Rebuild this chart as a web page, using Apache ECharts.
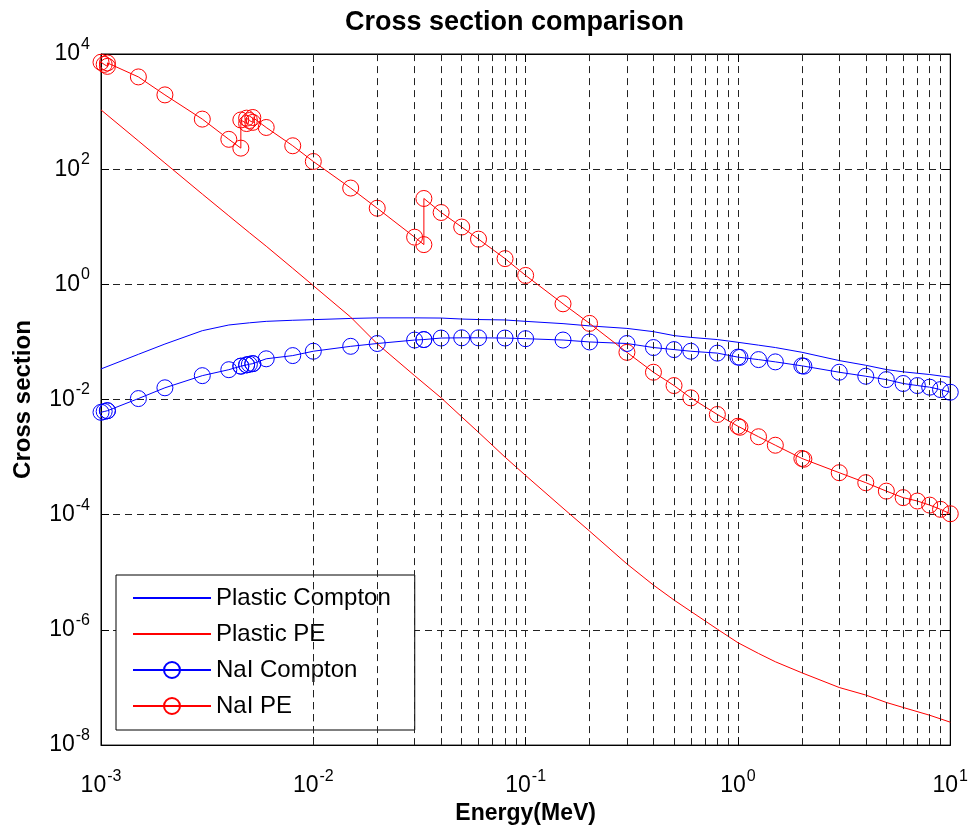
<!DOCTYPE html>
<html>
<head>
<meta charset="utf-8">
<title>Cross section comparison</title>
<script src="https://cdn.jsdelivr.net/npm/echarts@6/dist/echarts.min.js"></script>
<style>
html, body { margin: 0; padding: 0; background: #fff; }
#chart { width: 971px; height: 830px; }
</style>
</head>
<body>
<div id="chart"></div>
<script>
const FONT = '"Liberation Sans", Arial, sans-serif';

// energy grid (MeV) for the plastic scintillator
const plasticEnergy = [0.001, 0.0015, 0.002, 0.003, 0.004, 0.005, 0.006, 0.008, 0.01, 0.015, 0.02, 0.03, 0.04, 0.05, 0.06, 0.08,
    0.1, 0.15, 0.2, 0.3, 0.4, 0.5, 0.6, 0.8, 1, 1.25, 1.5, 2, 3, 4, 5, 6, 8, 10];
const plasticCompton = [0.034, 0.061, 0.092, 0.157, 0.197, 0.215, 0.228, 0.238, 0.244, 0.256, 0.262, 0.262, 0.26, 0.25, 0.245, 0.241,
    0.228, 0.208, 0.19, 0.172, 0.151, 0.129, 0.12, 0.11, 0.0987, 0.088, 0.08, 0.0662, 0.0475, 0.0394, 0.0332, 0.0303, 0.0272, 0.0244];
const plasticPE = [1070, 310, 128, 37, 15.5, 7.9, 4.6, 1.9, 0.95, 0.27, 0.093, 0.026, 0.0107, 0.005, 0.0027, 0.001,
    4.8e-4, 1.3e-4, 5.2e-5, 1.4e-5, 6.0e-6, 3.3e-6, 2.1e-6, 1.03e-6, 6.0e-7, 3.9e-7, 2.8e-7, 1.8e-7, 1.0e-7, 7.4e-8, 5.5e-8, 4.5e-8, 3.3e-8, 2.5e-8];

// energy grid (MeV) for NaI, absorption edges appear twice
const naiEnergy = [0.001, 0.001035, 0.001072, 0.001072, 0.0015, 0.002, 0.003, 0.004, 0.004557, 0.004557, 0.004852, 0.004852,
    0.005, 0.005188, 0.005188, 0.006, 0.008, 0.01, 0.015, 0.02, 0.03, 0.03317, 0.03317, 0.04, 0.05, 0.06, 0.08,
    0.1, 0.15, 0.2, 0.3, 0.4, 0.5, 0.6, 0.8, 1.0, 1.022, 1.25, 1.5, 2, 2.044, 3, 4, 5, 6, 7, 8, 9, 10];
const naiCompton = [0.006, 0.0062, 0.0064, 0.0064, 0.0104, 0.016, 0.026, 0.033, 0.038, 0.038, 0.04, 0.04,
    0.041, 0.042, 0.042, 0.051, 0.058, 0.069, 0.084, 0.094, 0.108, 0.11, 0.11, 0.117, 0.118, 0.118, 0.117,
    0.114, 0.108, 0.1, 0.094, 0.08, 0.0737, 0.069, 0.064, 0.0545, 0.054, 0.0494, 0.0451, 0.0385, 0.038, 0.0298, 0.0254, 0.0222, 0.019, 0.0175, 0.0164, 0.0149, 0.0134];
const naiPE = [7200, 6600, 6100, 7000, 4000, 1950, 740, 330, 232, 715, 620, 770,
    700, 650, 790, 530, 255, 136, 47, 21, 6.6, 4.9, 31, 17.7, 9.9, 6.1, 2.8,
    1.43, 0.46, 0.21, 0.066, 0.0298, 0.0175, 0.0107, 0.0055, 0.00344, 0.0033, 0.00226, 0.00161, 0.00095, 0.00092, 0.000537, 0.00036, 0.000257, 0.000198, 0.000173, 0.000147, 0.000124, 0.000104];

const seriesNames = ['Plastic Compton', 'Plastic PE', 'NaI Compton', 'NaI PE'];

// minor x grid positions 2..9 x 10^d
let minorX = [];
for (let d = -3; d < 1; d++) {
    for (let k = 2; k <= 9; k++) {
        minorX.push(k * Math.pow(10, d));
    }
}

function pairs(xs, ys) {
    let out = [];
    for (let i = 0; i < xs.length; i++) out.push([xs[i], ys[i]]);
    return out;
}

function powLabel(v) {
    let e = Math.round(Math.log10(v));
    return '{b|10}{e|' + e + '}';
}

const labelRich = {
    b: { fontSize: 23, fontFamily: FONT, color: '#000' },
    e: { fontSize: 16, fontFamily: FONT, color: '#000', padding: [0, 0, 19, 1] }
};

const gridLine = { show: true, lineStyle: { color: '#222', type: [7, 5], width: 1 } };

let chart = echarts.init(document.getElementById('chart'));

let option = {
    animation: false,
    backgroundColor: '#fff',
    title: {
        text: 'Cross section comparison',
        left: 345,
        top: 9,
        padding: 0,
        textStyle: { fontSize: 27, fontWeight: 'bold', fontFamily: FONT, color: '#000' }
    },
    grid: { left: 101, right: 19, top: 54, bottom: 84, show: true, borderColor: '#000', borderWidth: 1, backgroundColor: '#fff' },
    legend: {
        orient: 'vertical',
        left: 116,
        top: 575,
        padding: [11, 24, 12, 16],
        itemWidth: 78,
        itemHeight: 20,
        itemGap: 12,
        selectedMode: false,
        backgroundColor: '#fff',
        borderColor: '#000',
        borderWidth: 1,
        textStyle: { fontSize: 24, fontFamily: FONT, color: '#000' },
        data: [
            { name: seriesNames[0], itemStyle: { color: 'rgba(0,0,0,0)', borderWidth: 0 } },
            { name: seriesNames[1], itemStyle: { color: 'rgba(0,0,0,0)', borderWidth: 0 } },
            { name: seriesNames[2] },
            { name: seriesNames[3] }
        ]
    },
    xAxis: [
        {
            type: 'log', logBase: 10, min: 0.001, max: 10, splitNumber: 4,
            name: 'Energy(MeV)', nameLocation: 'middle', nameGap: 48,
            nameTextStyle: { fontSize: 23, fontWeight: 'bold', fontFamily: FONT, color: '#000' },
            axisLine: { lineStyle: { color: '#000', width: 1 } },
            axisTick: { inside: true, length: 8, lineStyle: { color: '#000' } },
            axisLabel: { margin: 23, formatter: powLabel, rich: labelRich },
            splitLine: gridLine
        },
        {
            type: 'log', logBase: 10, min: 0.001, max: 10, splitNumber: 4, position: 'top',
            axisLine: { lineStyle: { color: '#000', width: 1 } },
            axisTick: { inside: true, length: 8, lineStyle: { color: '#000' } },
            axisLabel: { show: false },
            splitLine: { show: false }
        }
    ],
    yAxis: [
        {
            type: 'log', logBase: 100, min: 1e-8, max: 1e4, splitNumber: 6,
            name: 'Cross section', nameLocation: 'middle', nameGap: 66,
            nameTextStyle: { fontSize: 24, fontWeight: 'bold', fontFamily: FONT, color: '#000' },
            axisLine: { lineStyle: { color: '#000', width: 1 } },
            axisTick: { inside: true, length: 8, lineStyle: { color: '#000' } },
            axisLabel: { margin: 11, formatter: powLabel, rich: labelRich },
            splitLine: gridLine
        },
        {
            type: 'log', logBase: 100, min: 1e-8, max: 1e4, splitNumber: 6, position: 'right',
            axisLine: { lineStyle: { color: '#000', width: 1 } },
            axisTick: { inside: true, length: 8, lineStyle: { color: '#000' } },
            axisLabel: { show: false },
            splitLine: { show: false }
        }
    ],
    series: [
        {
            name: 'minor grid',
            type: 'line',
            data: [],
            z: 1,
            markLine: {
                silent: true,
                symbol: ['none', 'none'],
                label: { show: false },
                lineStyle: { color: '#222', type: [7, 5], width: 1 },
                data: minorX.map(v => ({ xAxis: v }))
            }
        },
        {
            name: seriesNames[0],
            type: 'line',
            z: 3,
            data: pairs(plasticEnergy, plasticCompton),
            symbol: 'none',
            lineStyle: { color: '#0000ff', width: 1 },
            itemStyle: { color: '#0000ff' }
        },
        {
            name: seriesNames[1],
            type: 'line',
            z: 3,
            data: pairs(plasticEnergy, plasticPE),
            symbol: 'none',
            lineStyle: { color: '#ff0000', width: 1 },
            itemStyle: { color: '#ff0000' }
        },
        {
            name: seriesNames[2],
            type: 'line',
            z: 4,
            data: pairs(naiEnergy, naiCompton),
            symbol: 'circle',
            symbolSize: 16,
            lineStyle: { color: '#0000ff', width: 1 },
            itemStyle: { color: 'rgba(0,0,0,0)', borderColor: '#0000ff', borderWidth: 1 }
        },
        {
            name: seriesNames[3],
            type: 'line',
            z: 4,
            data: pairs(naiEnergy, naiPE),
            symbol: 'circle',
            symbolSize: 16,
            lineStyle: { color: '#ff0000', width: 1 },
            itemStyle: { color: 'rgba(0,0,0,0)', borderColor: '#ff0000', borderWidth: 1 }
        }
    ]
};

chart.setOption(option);
</script>
</body>
</html>
